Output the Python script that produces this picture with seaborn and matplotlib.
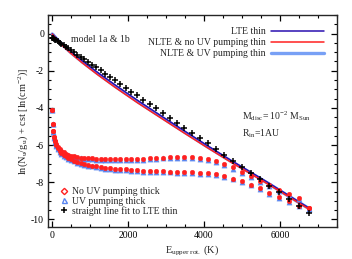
import matplotlib
matplotlib.use("Agg")
import matplotlib.pyplot as plt
from matplotlib.lines import Line2D
from matplotlib.ticker import MultipleLocator
import seaborn as sns
import pandas as pd

# ---------------- data ----------------
E_levels = [5.5, 16.6, 33.2, 55.3, 83.0, 116.2, 154.9, 199.2, 248.9, 304.3,
            365.1, 431.5, 503.4, 580.9, 663.8, 752.4, 846.4, 946.0, 1051.1, 1161.7,
            1277.9, 1399.6, 1526.8, 1659.6, 1797.9, 1941.7, 2091.1, 2246.0, 2406.4, 2572.4,
            2743.9, 2920.9, 3103.5, 3291.5, 3485.2, 3684.3, 3889.0, 4099.2, 4315.0, 4536.2,
            4763.1, 4995.4, 5233.3, 5476.7, 5725.6, 5980.1, 6240.1, 6505.6, 6776.7]

thick_noUV_1a = [-4.09, -4.84, -5.24, -5.54, -5.78, -5.96, -6.10, -6.22, -6.31, -6.39,
                 -6.46, -6.52, -6.57, -6.61, -6.64, -6.67, -6.69, -6.71, -6.72, -6.73,
                 -6.74, -6.75, -6.75, -6.75, -6.75, -6.75, -6.74, -6.74, -6.73, -6.72,
                 -6.70, -6.67, -6.64, -6.62, -6.62, -6.64, -6.69, -6.77, -6.88, -7.00,
                 -7.20, -7.42, -7.65, -7.92, -8.16, -8.39, -8.61, -8.83, -9.40]
thick_UV_1a = [-4.13, -4.88, -5.28, -5.59, -5.83, -6.01, -6.15, -6.27, -6.36, -6.44,
               -6.51, -6.57, -6.62, -6.66, -6.69, -6.72, -6.74, -6.76, -6.77, -6.78,
               -6.79, -6.80, -6.80, -6.80, -6.80, -6.80, -6.79, -6.79, -6.78, -6.77,
               -6.75, -6.72, -6.69, -6.67, -6.67, -6.69, -6.74, -6.82, -6.93, -7.06,
               -7.26, -7.48, -7.71, -7.98, -8.22, -8.45, -8.67, -8.89, -9.45]
thick_noUV_1b = [-4.09, -4.84, -5.24, -5.55, -5.80, -6.00, -6.16, -6.30, -6.42, -6.52,
                 -6.61, -6.69, -6.76, -6.83, -6.89, -6.95, -7.00, -7.05, -7.10, -7.14,
                 -7.18, -7.21, -7.24, -7.27, -7.29, -7.31, -7.33, -7.35, -7.37, -7.39,
                 -7.40, -7.41, -7.42, -7.43, -7.44, -7.46, -7.48, -7.52, -7.58, -7.68,
                 -7.80, -7.95, -8.12, -8.33, -8.56, -8.79, -9.01, -9.25, -9.40]
thick_UV_1b = [-4.13, -4.88, -5.28, -5.60, -5.85, -6.05, -6.21, -6.35, -6.47, -6.57,
               -6.66, -6.74, -6.81, -6.88, -6.94, -7.00, -7.05, -7.10, -7.15, -7.19,
               -7.23, -7.26, -7.29, -7.32, -7.34, -7.36, -7.38, -7.40, -7.42, -7.44,
               -7.45, -7.46, -7.47, -7.48, -7.49, -7.51, -7.53, -7.57, -7.63, -7.73,
               -7.85, -8.00, -8.17, -8.38, -8.61, -8.84, -9.06, -9.30, -9.45]
fit_LTE = [-0.21, -0.22, -0.25, -0.28, -0.32, -0.36, -0.42, -0.48, -0.55, -0.62,
           -0.71, -0.80, -0.90, -1.01, -1.13, -1.25, -1.38, -1.52, -1.67, -1.82,
           -1.98, -2.15, -2.33, -2.51, -2.71, -2.91, -3.12, -3.33, -3.55, -3.79,
           -4.02, -4.27, -4.53, -4.79, -5.06, -5.34, -5.62, -5.91, -6.22, -6.52,
           -6.84, -7.16, -7.50, -7.83, -8.18, -8.54, -8.90, -9.27, -9.65]

line_E = [5.5, 150, 300, 500, 800, 1200, 1660, 2250, 2920, 3480, 4100, 4760, 5230, 5730, 6240, 6777]
lte_thin = [-0.01, -0.31, -0.62, -0.98, -1.47, -2.09, -2.76, -3.59, -4.49, -5.23,
            -6.04, -6.88, -7.45, -8.07, -8.72, -9.40]
nlte_noUV_thin = [-0.03, -0.37, -0.70, -1.07, -1.58, -2.21, -2.89, -3.72, -4.61, -5.35,
                  -6.15, -6.98, -7.54, -8.15, -8.79, -9.46]
nlte_UV_thin = [-0.02, -0.34, -0.66, -1.03, -1.53, -2.15, -2.83, -3.66, -4.55, -5.29,
                -6.10, -6.93, -7.50, -8.11, -8.76, -9.43]

line_labels = ["LTE thin", "NLTE & no UV pumping thin", "NLTE & UV pumping thin"]
marker_labels = ["No UV pumping thick", "UV pumping thick", "straight line fit to LTE thin"]

# ---------------- style ----------------
sns.set_theme(style="ticks")
plt.rcParams["font.family"] = ["Liberation Serif", "DejaVu Serif"]
plt.rcParams["mathtext.fontset"] = "custom"
plt.rcParams["mathtext.rm"] = "Liberation Serif"
plt.rcParams["mathtext.it"] = "Liberation Serif:italic"
plt.rcParams.update({
    "axes.unicode_minus": False,
    "xtick.direction": "in", "ytick.direction": "in",
    "xtick.top": True, "ytick.right": True,
    "xtick.major.size": 4, "ytick.major.size": 4,
    "xtick.minor.size": 2, "ytick.minor.size": 2,
    "xtick.major.width": 0.9, "ytick.major.width": 0.9,
    "xtick.minor.width": 0.8, "ytick.minor.width": 0.8,
    "axes.linewidth": 1.0,
    "xtick.labelsize": 7, "ytick.labelsize": 7,
})

c_lte = "#2a0fb0"
c_red = "#ff2020"
c_lblue = "#78a0f5"
c_mblue = "#5a86f0"

fig = plt.figure(figsize=(3.52, 2.59), dpi=100)
ax = fig.add_axes([0.137, 0.124, 0.820, 0.818])

lines_df = pd.DataFrame({"E": line_E, "lte": lte_thin, "noUV": nlte_noUV_thin, "UV": nlte_UV_thin})
pts_df = pd.DataFrame({"E": E_levels, "r1a": thick_noUV_1a, "b1a": thick_UV_1a,
                       "r1b": thick_noUV_1b, "b1b": thick_UV_1b, "fit": fit_LTE})

sns.lineplot(data=lines_df, x="E", y="UV", ax=ax, color=c_lblue, lw=2.4, sort=False, estimator=None)
sns.lineplot(data=lines_df, x="E", y="lte", ax=ax, color=c_lte, lw=1.1, sort=False, estimator=None)
sns.lineplot(data=lines_df, x="E", y="noUV", ax=ax, color=c_red, lw=1.1, sort=False, estimator=None)

for col in ["b1a", "b1b"]:
    sns.scatterplot(data=pts_df, x="E", y=col, ax=ax, marker="^", s=14, color=c_mblue,
                    edgecolor=c_mblue, linewidth=0.3, zorder=3)
for col in ["r1a", "r1b"]:
    sns.scatterplot(data=pts_df, x="E", y=col, ax=ax, marker="o", s=11, color=c_red,
                    edgecolor=c_red, linewidth=0.3, zorder=4)
sns.scatterplot(data=pts_df, x="E", y="fit", ax=ax, marker="+", s=16, color="black",
                linewidth=1.1, zorder=5)

ax.set_xlim(-100, 7500)
ax.set_ylim(-10.4, 1.0)
ax.xaxis.set_major_locator(MultipleLocator(2000))
ax.xaxis.set_minor_locator(MultipleLocator(500))
ax.yaxis.set_major_locator(MultipleLocator(2))
ax.yaxis.set_minor_locator(MultipleLocator(0.5))
ax.tick_params(which="both", colors="black", pad=3)

ax.set_xlabel(r"E$_{\rm upper\ rot.}$ (K)", fontsize=7.5, labelpad=2)
ax.set_ylabel(r"ln(N$_{\rm u}$/g$_{\rm u}$) + cst [ln(cm$^{-2}$)]", fontsize=7.5, labelpad=1)

ax.text(0.08, 0.885, "model 1a & 1b", transform=ax.transAxes, fontsize=7, va="center")
ax.text(0.67, 0.524, r"M$_{\rm disc}$= 10$^{-2}$ M$_{\rm Sun}$", transform=ax.transAxes,
        fontsize=7, va="center")
ax.text(0.67, 0.439, r"R$_{\rm in}$=1AU", transform=ax.transAxes, fontsize=7, va="center")

h_lines = [Line2D([], [], color=c_lte, lw=1.1),
           Line2D([], [], color=c_red, lw=1.1),
           Line2D([], [], color=c_lblue, lw=2.4)]
leg1 = ax.legend(h_lines, line_labels, loc="upper right", bbox_to_anchor=(0.975, 0.97),
                 markerfirst=False, frameon=False, fontsize=7, handlelength=5.4,
                 labelspacing=0.2, handletextpad=0.6, borderaxespad=0.2)
ax.add_artist(leg1)

h_marks = [Line2D([], [], ls="none", marker="D", ms=3.2, mfc="none", mec=c_red, mew=1.0),
           Line2D([], [], ls="none", marker="^", ms=3.6, mfc="none", mec=c_mblue, mew=1.0),
           Line2D([], [], ls="none", marker="+", ms=4, color="black", mew=1.1)]
ax.legend(h_marks, marker_labels, loc="lower left", bbox_to_anchor=(0.02, 0.025),
          frameon=False, fontsize=7, handlelength=0.8, labelspacing=0.05,
          handletextpad=0.5, borderaxespad=0.2)

fig.savefig("out.png", dpi=100)
